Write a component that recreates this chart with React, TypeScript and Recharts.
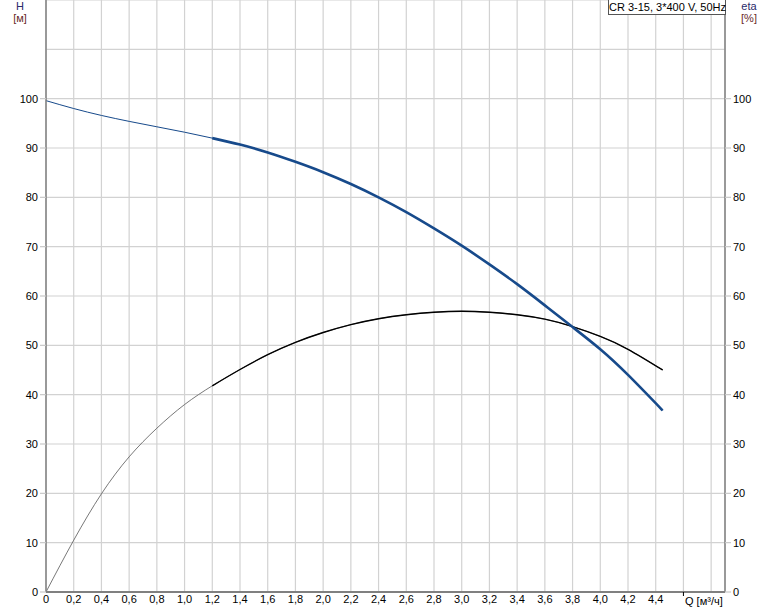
import { CartesianGrid, Line, LineChart, XAxis, YAxis } from "recharts";

// Q [m3/h]
const Q_POINTS = [0, 0.2, 0.4, 0.6, 0.8, 1.0, 1.2, 1.4, 1.6, 1.8, 2.0, 2.2, 2.4, 2.6, 2.8, 3.0, 3.2, 3.4, 3.6, 3.8, 4.0, 4.2, 4.45];
// head H [m]
const H_VALUES = [99.6, 98.0, 96.6, 95.4, 94.3, 93.2, 92.0, 90.7, 89.1, 87.2, 85.1, 82.7, 80.0, 77.0, 73.7, 70.2, 66.4, 62.4, 58.1, 53.7, 49.2, 44.0, 36.8];
// efficiency eta [%]
const ETA_VALUES = [0, 10.5, 19.9, 27.4, 33.2, 38.0, 41.8, 45.1, 48.1, 50.6, 52.6, 54.2, 55.4, 56.2, 56.7, 56.9, 56.7, 56.2, 55.3, 53.8, 51.8, 49.2, 45.0];

const X_TICKS = [0, 0.2, 0.4, 0.6, 0.8, 1.0, 1.2, 1.4, 1.6, 1.8, 2.0, 2.2, 2.4, 2.6, 2.8, 3.0, 3.2, 3.4, 3.6, 3.8, 4.0, 4.2, 4.4, 4.6, 4.8];
const Y_TICKS = [0, 10, 20, 30, 40, 50, 60, 70, 80, 90, 100, 110];
const DUTY_START = 1.2;
const TITLE = "CR 3-15, 3*400 V, 50Hz";

const FONT = "'Liberation Sans', Arial, sans-serif";
const BLUE = "#174a8b";

const toRows = (vals: number[], keep: (q: number) => boolean) =>
  Q_POINTS.map((q, i) => ({ q, v: vals[i] })).filter((p) => keep(p.q));

const hAll = toRows(H_VALUES, () => true);
const hDuty = toRows(H_VALUES, (q) => q >= DUTY_START);
const etaAll = toRows(ETA_VALUES, () => true);
const etaDuty = toRows(ETA_VALUES, (q) => q >= DUTY_START);

function XTick(props: any) {
  const { x, y, payload } = props;
  const v = payload.value as number;
  if (v > 4.5) {
    if (v < 4.7) return <line x1={x} x2={x} y1={y - 8} y2={y - 4} stroke="#000" />;
    return <g />;
  }
  return (
    <text x={x} y={y + 3} textAnchor="middle" fontSize={11} fontFamily={FONT} fill="#000">
      {v === 0 ? "0" : v.toFixed(1).replace(".", ",")}
    </text>
  );
}

function YTick(props: any) {
  const { x, y, payload, side } = props;
  const v = payload.value as number;
  if (v > 100) return <g />;
  const left = side === "left";
  return (
    <g>
      <line x1={left ? x + 2 : x - 8} x2={left ? x + 8 : x - 2} y1={y} y2={y} stroke="#c8c8c8" strokeWidth={1.2} />
      <text x={x} y={y + 4} textAnchor={left ? "end" : "start"} fontSize={11} fontFamily={FONT} fill="#000">
        {v}
      </text>
    </g>
  );
}

export default function App() {
  return (
    <div style={{ position: "absolute", left: 0, top: 0, width: 774, height: 611, background: "#fff" }}>
      <LineChart width={774} height={611} margin={{ top: 0, right: 0, bottom: 0, left: 0 }}>
        <CartesianGrid yAxisId="left" stroke="#d2d2d2" strokeWidth={1.2} />
        <XAxis
          dataKey="q"
          type="number"
          domain={[0, 4.9]}
          ticks={X_TICKS}
          interval={0}
          height={19}
          tick={<XTick />}
          tickLine={false}
          axisLine={{ stroke: "#808080", strokeWidth: 2 }}
        />
        <YAxis
          yAxisId="left"
          domain={[0, 120]}
          ticks={Y_TICKS}
          interval={0}
          width={46}
          tickSize={6}
          tickMargin={2}
          tickLine={false}
          axisLine={{ stroke: "#808080", strokeWidth: 1.5 }}
          tick={<YTick side="left" />}
        />
        <YAxis
          yAxisId="right"
          orientation="right"
          domain={[0, 120]}
          ticks={Y_TICKS}
          interval={0}
          width={49}
          tickSize={6}
          tickMargin={2}
          tickLine={false}
          axisLine={{ stroke: "#808080", strokeWidth: 1.5 }}
          tick={<YTick side="right" />}
        />
        <Line yAxisId="right" data={etaAll} dataKey="v" type="natural" stroke="#555" strokeWidth={0.8} dot={false} isAnimationActive={false} />
        <Line yAxisId="right" data={etaDuty} dataKey="v" type="natural" stroke="#000" strokeWidth={1.4} dot={false} isAnimationActive={false} />
        <Line yAxisId="left" data={hAll} dataKey="v" type="natural" stroke={BLUE} strokeWidth={1} dot={false} isAnimationActive={false} />
        <Line yAxisId="left" data={hDuty} dataKey="v" type="natural" stroke={BLUE} strokeWidth={2.6} dot={false} isAnimationActive={false} />
      </LineChart>

      <div style={{ position: "absolute", left: 0, top: 0, width: 40, textAlign: "center", fontFamily: FONT, fontSize: 11, lineHeight: "12px" }}>
        <div style={{ color: "#2a2a6a" }}>H</div>
        <div style={{ color: "#6a2a2a" }}>[м]</div>
      </div>
      <div style={{ position: "absolute", left: 731, top: 0, width: 36, textAlign: "center", fontFamily: FONT, fontSize: 11, lineHeight: "12px" }}>
        <div style={{ color: "#2a2a6a" }}>eta</div>
        <div style={{ color: "#6a2a2a" }}>[%]</div>
      </div>
      <div
        style={{
          position: "absolute",
          left: 608,
          top: -1,
          width: 116,
          height: 14,
          border: "1px solid #555",
          background: "#fff",
          fontFamily: FONT,
          fontSize: 11,
          lineHeight: "14px",
          textAlign: "center",
          whiteSpace: "nowrap",
        }}
      >
        {TITLE}
      </div>
      <div style={{ position: "absolute", left: 685, top: 595, fontFamily: FONT, fontSize: 11, whiteSpace: "nowrap" }}>
        Q [м³/ч]
      </div>
    </div>
  );
}
